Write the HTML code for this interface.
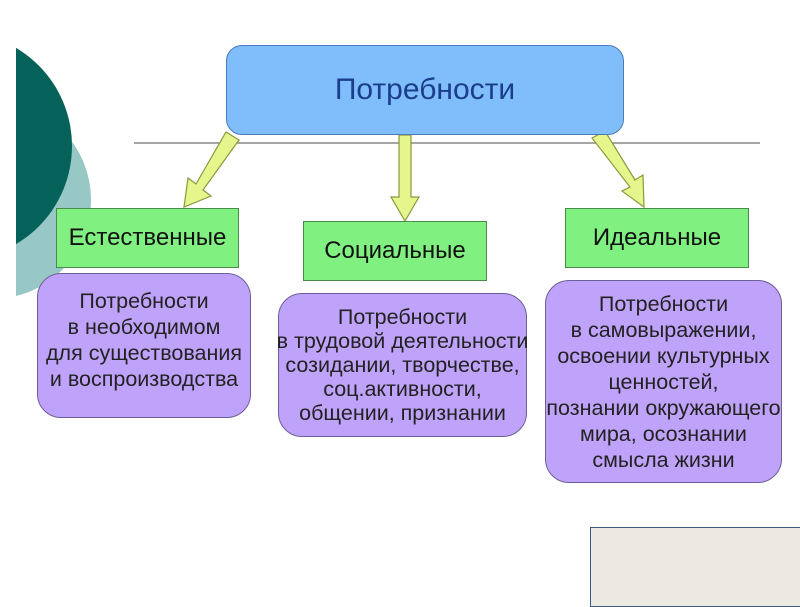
<!DOCTYPE html>
<html><head><meta charset="utf-8"><style>
body{margin:0;width:800px;height:600px;overflow:hidden;background:#fff;position:relative;font-family:"Liberation Sans",sans-serif}
.a{position:absolute;box-sizing:border-box;display:flex;align-items:center;justify-content:center;text-align:center}
.g{background:#80f080;border:1.5px solid #4a8a4a;font-size:24px;color:#111}
.p{background:#bfa3fb;border:1.5px solid #6c5f96;border-radius:24px;font-size:21.5px;line-height:26px;color:#222;white-space:nowrap}
</style></head><body>
<svg width="800" height="600" style="position:absolute;left:0;top:0">
<defs><clipPath id="c"><rect x="16" y="0" width="800" height="600"/></clipPath></defs>
<g clip-path="url(#c)">
<circle cx="-8" cy="200" r="99" fill="#97c8c6"/>
<circle cx="-42" cy="146" r="114" fill="#04625b"/>
</g>
<line x1="134" y1="143" x2="760" y2="143" stroke="#888" stroke-width="1.5"/>
<g fill="#e6f58c" stroke="#8a9a3c" stroke-width="1.2">
<polygon points="226,132 239,140 203,190 211,196 184,207 188,178 196,184"/>
<polygon points="399,135 411,135 411,197 419,197 405,221 391,197 399,197"/>
<polygon points="592,138 605,131 635,180 643,175 644,207 622,191 630,187"/>
</g>
</svg>
<div class="a" style="left:226px;top:45px;width:398px;height:90px;background:#80bdfb;border:1.5px solid #4a7cb8;border-radius:16px;font-size:30px;color:#1c3d8c">Потребности</div>
<div class="a g" style="left:56px;top:208px;width:183px;height:60px">Естественные</div>
<div class="a g" style="left:303px;top:221px;width:184px;height:60px">Социальные</div>
<div class="a g" style="left:565px;top:208px;width:184px;height:60px">Идеальные</div>
<div class="a p" style="left:37px;top:273px;width:214px;height:145px;padding-bottom:12px">Потребности<br>в необходимом<br>для существования<br>и воспроизводства</div>
<div class="a p" style="left:278px;top:293px;width:249px;height:144px;line-height:24px">Потребности<br>в трудовой деятельности<br>созидании, творчестве,<br>соц.активности,<br>общении, признании</div>
<div class="a p" style="left:545px;top:280px;width:237px;height:203px">Потребности<br>в самовыражении,<br>освоении культурных<br>ценностей,<br>познании окружающего<br>мира, осознании<br>смысла жизни</div>
<div style="position:absolute;left:590px;top:527px;width:215px;height:80px;background:#ebe9e1;border:1.5px solid #3b5a80;box-sizing:border-box"></div>
</body></html>
